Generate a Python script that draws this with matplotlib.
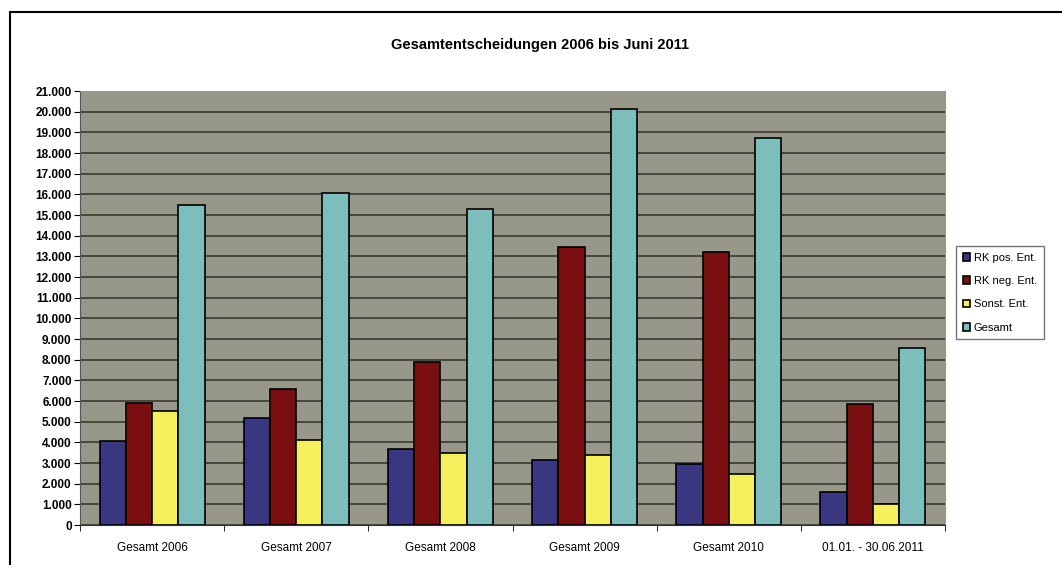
import numpy as np
import matplotlib.pyplot as plt
from matplotlib.patches import Rectangle

plt.rcParams['font.family'] = ['Liberation Sans', 'DejaVu Sans']

# Daten
kategorien = ['Gesamt 2006', 'Gesamt 2007', 'Gesamt 2008', 'Gesamt 2009', 'Gesamt 2010', '01.01. - 30.06.2011']
rk_pos = [4050, 5200, 3700, 3150, 2950, 1600]
rk_neg = [5900, 6600, 7900, 13450, 13200, 5850]
sonst = [5500, 4100, 3500, 3400, 2450, 1000]
gesamt = [15500, 16050, 15300, 20150, 18750, 8550]
serien = ['RK pos. Ent.', 'RK neg. Ent.', 'Sonst. Ent.', 'Gesamt']
farben = ['#38377f', '#7a0f12', '#f4ef5c', '#7dbdbb']
y_ticks = np.arange(0, 22000, 1000)
y_labels = ['0'] + ['{:,}'.format(v).replace(',', '.') for v in y_ticks[1:]]

fig = plt.figure(figsize=(10.62, 5.65), dpi=100)
ax = fig.add_axes([80 / 1062, 40 / 565, 865 / 1062, 434 / 565])
ax.set_facecolor('#97978a')

x = np.arange(len(kategorien))
w = 0.182
werte = [rk_pos, rk_neg, sonst, gesamt]
for i, (vals, name, col) in enumerate(zip(werte, serien, farben)):
    ax.bar(x + (i - 1.5) * w, vals, w, color=col, edgecolor='black', linewidth=1.2,
           label=name, zorder=3)

ax.set_xlim(-0.5, len(kategorien) - 0.5)
ax.set_ylim(0, 21000)
ax.set_yticks(y_ticks)
ax.set_yticklabels(y_labels, fontsize=8.5, fontweight='bold')
ax.yaxis.grid(True, color='#3a3a30', linewidth=1.2, zorder=0)
ax.set_xticks(x)
ax.set_xticklabels(kategorien, fontsize=8.5)
ax.set_xticks(np.arange(-0.5, len(kategorien)), minor=True)
ax.tick_params(axis='x', which='major', length=0, pad=12)
ax.tick_params(axis='x', which='minor', length=4)
ax.tick_params(axis='y', length=4, pad=2)
for s in ['top', 'right']:
    ax.spines[s].set_color('#97978a')
ax.spines['left'].set_color('#555555')
ax.spines['bottom'].set_color('#333333')

fig.text(540 / 1062, 1 - 45 / 565, 'Gesamtentscheidungen 2006 bis Juni 2011',
         ha='center', va='center', fontsize=10.5, fontweight='bold')

leg = fig.legend(loc='upper left', bbox_to_anchor=(956 / 1062, 1 - 246 / 565),
                 fontsize=8, frameon=True, fancybox=False, edgecolor='#555555',
                 handlelength=0.7, handleheight=0.7, handletextpad=0.3,
                 borderpad=0.6, labelspacing=1.2, borderaxespad=0)

# Rahmen
fig.patches.append(Rectangle((10 / 1062, -0.01), 1.1, 1 - 12 / 565 + 0.01,
                             transform=fig.transFigure, fill=False,
                             edgecolor='black', linewidth=1.5))

fig.savefig('out.png', dpi=100)
